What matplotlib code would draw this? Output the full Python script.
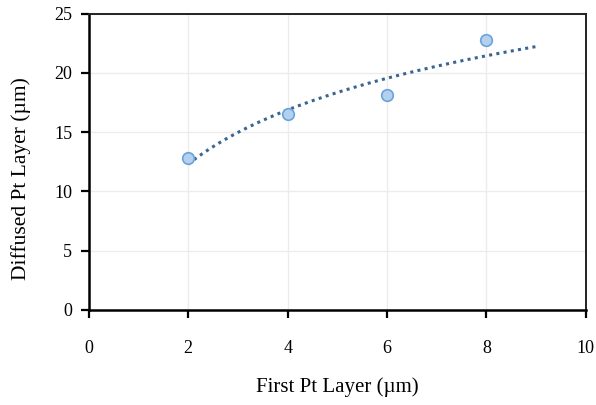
import numpy as np
import matplotlib.pyplot as plt

# data
first_pt = [2, 4, 6, 8]
diffused_pt = [12.8, 16.5, 18.1, 22.8]
x_ticks = [0, 2, 4, 6, 8, 10]
y_ticks = [0, 5, 10, 15, 20, 25]

plt.rcParams['font.family'] = ['Liberation Serif', 'DejaVu Serif']

fig = plt.figure(figsize=(5.96, 4.05), dpi=100)
ax = fig.add_axes([0.149, 0.235, 0.834, 0.731])

# logarithmic trendline fitted to the points (as the spreadsheet did)
a, b = np.polyfit(np.log(first_pt), diffused_pt, 1)
xt = np.linspace(2, 9, 200)
ax.plot(xt, a * np.log(xt) + b, ls=(0, (1, 1.4)), lw=2.2, color='#3a6590', zorder=3)

ax.scatter(first_pt, diffused_pt, s=70, facecolor='#b3d1ef', edgecolor='#6aa3d9',
           linewidth=1.2, zorder=4)

ax.set_xlim(0, 10)
ax.set_ylim(0, 25)
ax.set_xticks(x_ticks)
ax.set_yticks(y_ticks)
ax.grid(True, color='#ececec', lw=1)
ax.set_axisbelow(True)

for s in ['left', 'bottom']:
    ax.spines[s].set_linewidth(1.8)
for s in ['top', 'right']:
    ax.spines[s].set_linewidth(1.4)
    ax.spines[s].set_color('#222222')

ax.tick_params(axis='x', direction='out', length=6, width=1.6, pad=16, labelsize=13)
ax.tick_params(axis='y', direction='out', length=6, width=1.6, pad=6, labelsize=13)

ax.set_xlabel('First Pt Layer (µm)', fontsize=15, labelpad=14)
ax.set_ylabel('Diffused Pt Layer (µm)', fontsize=15.5)
ax.yaxis.set_label_coords(-0.117, 0.443)

fig.savefig('out.png', dpi=100)
